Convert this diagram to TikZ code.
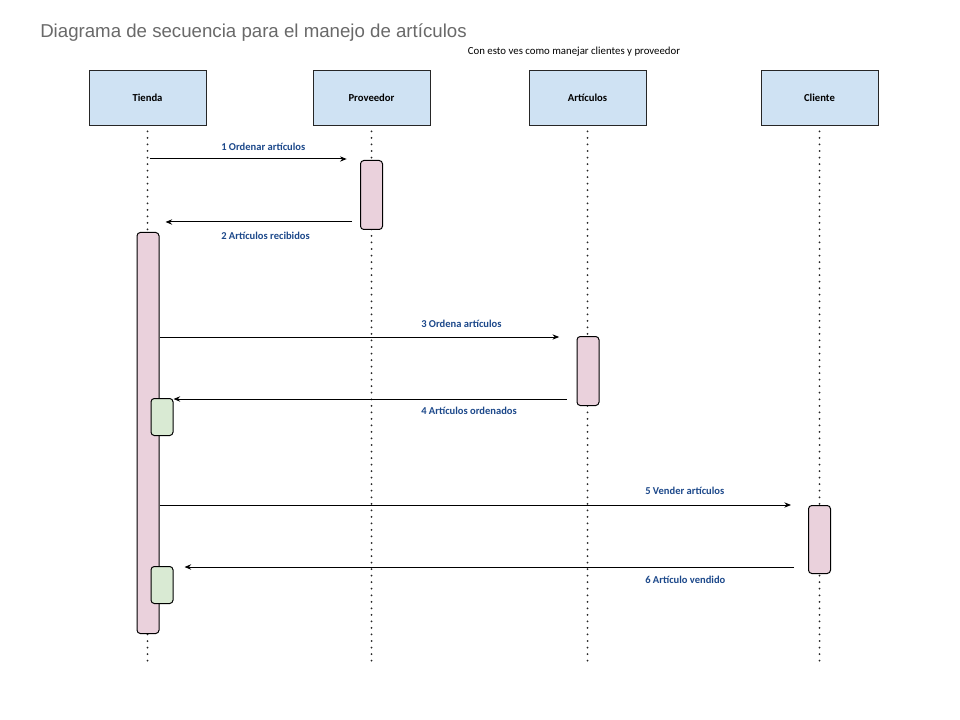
\documentclass[tikz,border=0pt]{standalone}
\usepackage{fontspec}
\setmainfont{Carlito}
\newfontfamily\titlefont{Liberation Sans}
\usepackage{xcolor}
\usepackage{tikz}
\usetikzlibrary{positioning,arrows.meta}
\definecolor{HeadBlue}{RGB}{207,226,243}
\definecolor{ActPink}{RGB}{234,209,220}
\definecolor{ActGreen}{RGB}{217,234,211}
\definecolor{MsgBlue}{RGB}{28,72,138}
\definecolor{TitleGray}{RGB}{105,105,105}
\tikzset{
    header/.style={rectangle, draw=black!85, fill=HeadBlue, line width=0.6pt, minimum width=87.75pt, minimum height=41.25pt, inner sep=0pt, font=\bfseries\fontsize{8}{9.5}\selectfont},
    lifeline/.style={draw=black!85, line width=1.5pt, dash pattern=on 0pt off 4.9pt, line cap=round, shorten <=4.5pt},
    msg/.style={draw=black, line width=0.75pt, -{Stealth[length=5pt,width=4pt]}},
    msglabel/.style={anchor=west, inner sep=0pt, text=MsgBlue, font=\bfseries\fontsize{7.9}{9.5}\selectfont}
}

\begin{document}
\begin{tikzpicture}[
        x=0.75pt, y=-0.75pt,
        % --- CAJAS DE ACTIVACION ---
        act/.style={
            rectangle,
            rounded corners=2.5pt,
            draw=black,
            line width=0.75pt,
            fill=ActPink,
            minimum width=16.5pt,
            inner sep=0pt,
            anchor=north
        },
        % Respuesta recibida (verde)
        okbox/.style={
            act,
            fill=ActGreen
        }
    ]
    \useasboundingbox (0,0) rectangle (960,720);

    % --- TITULO ---
    \node[anchor=base west, inner sep=0pt, text=TitleGray, font=\titlefont\fontsize{14}{16}\selectfont] (title) at (40,38) {Diagrama de secuencia para el manejo de artículos};
    \node[anchor=base, inner sep=0pt, font=\fontsize{8.1}{9.5}\selectfont] (subtitle) at (574,55) {Con esto ves como manejar clientes y proveedor};

    % --- PARTICIPANTES ---
    \node[header] (tienda) at (147.5,97.5) {Tienda};
    \node[header] (proveedor) at (371.5,97.5) {Proveedor};
    \node[header] (articulos) at (587.5,97.5) {Artículos};
    \node[header] (cliente) at (819.5,97.5) {Cliente};

    % --- LINEAS DE VIDA ---
    \foreach \who in {tienda, proveedor, articulos, cliente} {
        \draw[lifeline] (\who.south) -- (\who.south |- 0,662);
    }

    % --- ACTIVACIONES ---
    \node[act, minimum height=51.75pt] (actP) at (371.5,160) {};
    \node[act, minimum height=300.75pt] (actT) at (148,232) {};
    \node[act, minimum height=51.75pt] (actA) at (588,336) {};
    \node[okbox, minimum height=27.75pt] (okA) at (162,398) {};
    \node[act, minimum height=51pt] (actC) at (819.5,505) {};
    \node[okbox, minimum height=27.75pt] (okB) at (162,566) {};

    % --- MENSAJES ---
    \draw[msg, shorten <=1.5pt, shorten >=10pt] (tienda |- 0,159) -- (actP.west |- 0,159);
    \node[msglabel] (m1) at (221,147) {1 Ordenar artículos};

    \draw[msg, shorten <=6pt, shorten >=13.5pt] (actP.west |- 0,222) -- (tienda |- 0,222);
    \node[msglabel] (m2) at (221,236) {2 Artículos recibidos};

    \draw[msg, shorten >=13pt] (actT.east |- 0,337) -- (actA.west |- 0,337);
    \node[msglabel] (m3) at (421,323.5) {3 Ordena artículos};

    \draw[msg, shorten <=7.5pt] (actA.west |- 0,399) -- (okA.east |- 0,399);
    \node[msglabel] (m4) at (421,410.5) {4 Artículos ordenados};

    \draw[msg, shorten >=12.75pt] (actT.east |- 0,505) -- (actC.west |- 0,505);
    \node[msglabel] (m5) at (645,491) {5 Vender artículos};

    \draw[msg, shorten <=10.5pt, shorten >=8.25pt] (actC.west |- 0,567) -- (okB.east |- 0,567);
    \node[msglabel] (m6) at (645,579.5) {6 Artículo vendido};

\end{tikzpicture}
\end{document}
